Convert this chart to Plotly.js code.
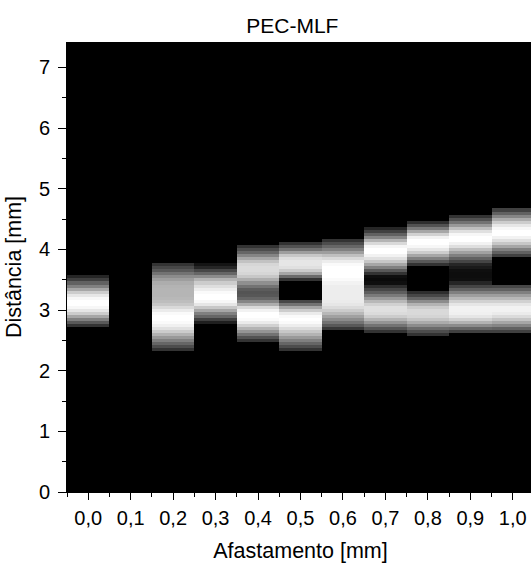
<!DOCTYPE html>
<html>
<head>
<meta charset="utf-8">
<script src="https://cdn.plot.ly/plotly-3.0.1.min.js"></script>
<style>
html, body { margin: 0; padding: 0; overflow: hidden; background: #fff; }
#chart { width: 540px; height: 565px; }
</style>
</head>
<body>
<div id="chart"></div>
<script>
// Afastamento (x) column centres [mm]
const afastamento = [0.0, 0.1, 0.2, 0.3, 0.4, 0.5, 0.6, 0.7, 0.8, 0.9, 1.0];

// Distância (y) sample rows [mm] covering the bright band (everything else is black/zero)
const distancia = [2.30, 2.35, 2.40, 2.45, 2.50, 2.55, 2.60, 2.65, 2.70, 2.75,
                   2.80, 2.85, 2.90, 2.95, 3.00, 3.05, 3.10, 3.15, 3.20, 3.25,
                   3.30, 3.35, 3.40, 3.45, 3.50, 3.55, 3.60, 3.65, 3.70, 3.75,
                   3.80, 3.85, 3.90, 3.95, 4.00, 4.05, 4.10, 4.15, 4.20, 4.25,
                   4.30, 4.35, 4.40, 4.45, 4.50, 4.55, 4.60, 4.65, 4.70];

// Normalised intensity profiles, one per column, ascending distance
const col00 = [0,0,0,0,0,0,0,0,0, 0.2,0.35,0.5,0.65,0.8,0.9,0.97,1.0,1.0,0.97,0.9,0.8,0.65,0.5,0.38,0.25,0.15, 0,0,0,0,0,0,0,0,0,0,0,0,0,0,0,0,0,0,0,0,0,0,0];
const col01 = [0,0,0,0,0,0,0,0,0,0,0,0,0,0,0,0,0,0,0,0,0,0,0,0,0,0,0,0,0,0,0,0,0,0,0,0,0,0,0,0,0,0,0,0,0,0,0,0,0];
const col02 = [0, 0.2,0.3,0.4,0.5,0.6,0.7,0.8,0.88,0.94,0.98,1.0,1.0,0.98,0.92,0.85,0.78,0.74,0.72,0.71,0.71,0.71,0.70,0.68,0.62,0.55,0.45,0.35,0.28,0.2, 0,0,0,0,0,0,0,0,0,0,0,0,0,0,0,0,0,0,0];
const col03 = [0,0,0,0,0,0,0,0,0,0, 0.12,0.25,0.4,0.5,0.65,0.78,0.9,0.97,1.0,1.0,0.98,0.93,0.87,0.8,0.7,0.55,0.4,0.28,0.15,0.08, 0,0,0,0,0,0,0,0,0,0,0,0,0,0,0,0,0,0,0];
const col04 = [0,0,0,0, 0.2,0.32,0.45,0.58,0.7,0.82,0.92,0.98,1.0,1.0,0.95,0.85,0.68,0.52,0.4,0.34,0.33,0.36,0.45,0.56,0.68,0.78,0.84,0.86,0.86,0.84,0.76,0.65,0.52,0.4,0.3,0.2, 0,0,0,0,0,0,0,0,0,0,0,0,0];
const col05 = [0, 0.2,0.3,0.4,0.5,0.6,0.7,0.78,0.86,0.93,0.98,1.0,0.98,0.92,0.8,0.65,0.45,0.28, 0,0,0,0,0,0, 0.2,0.42,0.65,0.8,0.88,0.9,0.9,0.87,0.78,0.62,0.45,0.32,0.2, 0,0,0,0,0,0,0,0,0,0,0,0];
const col06 = [0,0,0,0,0,0,0,0, 0.22,0.35,0.45,0.55,0.63,0.72,0.8,0.86,0.9,0.92,0.93,0.93,0.93,0.93,0.93,0.95,0.98,1.0,1.0,1.0,1.0,0.98,0.93,0.85,0.75,0.62,0.5,0.4,0.3,0.2, 0,0,0,0,0,0,0,0,0,0,0];
const col07 = [0,0,0,0,0,0,0, 0.2,0.33,0.45,0.58,0.7,0.8,0.86,0.88,0.88,0.82,0.72,0.6,0.48,0.37,0.28,0.18,0.06,0.04,0.06,0.2,0.35,0.5,0.65,0.78,0.88,0.95,1.0,1.0,0.96,0.85,0.7,0.52,0.38,0.25,0.15, 0,0,0,0,0,0,0];
const col08 = [0,0,0,0,0,0, 0.2,0.3,0.42,0.55,0.67,0.77,0.83,0.85,0.85,0.8,0.7,0.55,0.4,0.28,0.18, 0,0,0,0,0,0,0,0, 0.2,0.35,0.5,0.65,0.8,0.9,0.97,1.0,1.0,0.95,0.82,0.65,0.48,0.32,0.18, 0,0,0,0,0];
const col09 = [0,0,0,0,0,0,0, 0.25,0.4,0.55,0.7,0.82,0.9,0.94,0.95,0.95,0.9,0.82,0.72,0.62,0.5,0.38,0.27,0.15,0.06,0.05,0.05,0.06,0.1,0.15,0.27,0.38,0.5,0.63,0.75,0.87,0.95,1.0,1.0,0.97,0.88,0.75,0.6,0.45,0.32,0.2, 0,0,0];
const col10 = [0,0,0,0,0,0,0, 0.25,0.38,0.52,0.65,0.77,0.86,0.92,0.95,0.95,0.9,0.82,0.72,0.62,0.5,0.38,0.28, 0,0,0,0,0,0,0,0,0, 0.25,0.38,0.5,0.65,0.78,0.88,0.95,1.0,1.0,0.97,0.9,0.8,0.67,0.52,0.38,0.25, 0];

const columns = [col00, col01, col02, col03, col04, col05, col06, col07, col08, col09, col10];

// Build z[row][col] for the heatmap
const z = distancia.map((_, k) => columns.map(c => c[k]));

const trace = {
  type: 'heatmap',
  x: afastamento,
  y: distancia,
  z: z,
  zmin: 0,
  zmax: 1,
  colorscale: [[0, '#000000'], [1, '#ffffff']],
  showscale: false,
  hoverinfo: 'skip'
};

const FAMILY = 'Liberation Sans, Arial, sans-serif';
const axisFont = { family: FAMILY, size: 20, color: '#000' };

const layout = {
  width: 540,
  height: 565,
  margin: { l: 67, r: 6, t: 42, b: 73, pad: 0 },
  paper_bgcolor: '#ffffff',
  plot_bgcolor: '#000000',
  separators: ',.',
  font: { family: FAMILY, color: '#000' },
  title: {
    text: 'PEC-MLF',
    font: { family: FAMILY, size: 21, color: '#000' },
    xref: 'paper', x: 0.4826, xanchor: 'center',
    yref: 'container', y: 0.955, yanchor: 'middle'
  },
  xaxis: {
    range: [-0.05, 1.05],
    tickmode: 'linear', tick0: 0, dtick: 0.1, tickformat: '.1f',
    ticks: 'outside', ticklen: 7, tickwidth: 1, tickcolor: '#000',
    minor: { dtick: 0.05, tick0: 0, ticks: 'outside', ticklen: 4, tickwidth: 1, tickcolor: '#000' },
    showline: true, linecolor: '#000', linewidth: 1,
    showgrid: false, zeroline: false,
    tickfont: axisFont,
    ticklabelstandoff: 1,
    title: { text: 'Afastamento [mm]', font: { family: FAMILY, size: 21.5, color: '#000' }, standoff: 14 }
  },
  yaxis: {
    range: [0, 7.42],
    tickmode: 'linear', tick0: 0, dtick: 1,
    ticks: 'outside', ticklen: 8, tickwidth: 1, tickcolor: '#000',
    minor: { dtick: 0.5, tick0: 0, ticks: 'outside', ticklen: 4, tickwidth: 1, tickcolor: '#000' },
    showline: true, linecolor: '#000', linewidth: 1,
    showgrid: false, zeroline: false,
    tickfont: axisFont,
    ticklabelstandoff: 4,
    title: { text: 'Distância [mm]', font: { family: FAMILY, size: 21.5, color: '#000' }, standoff: 11 }
  }
};

Plotly.newPlot('chart', [trace], layout, { staticPlot: true, displayModeBar: false });
</script>
</body>
</html>
